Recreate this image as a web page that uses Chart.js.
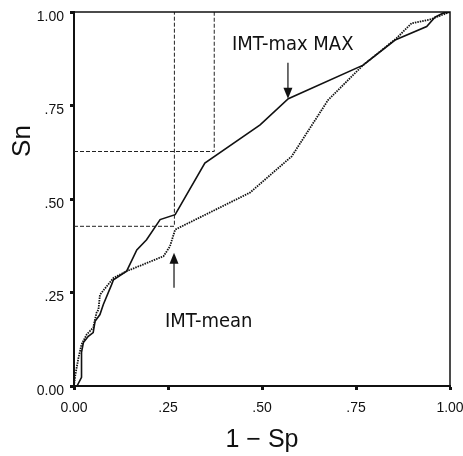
<!DOCTYPE html>
<html>
<head>
<meta charset="utf-8">
<script src="https://cdn.jsdelivr.net/npm/chart.js@4.4.1/dist/chart.umd.min.js"></script>
<style>
  html, body { margin: 0; padding: 0; background: #fff; }
  #wrap { width: 463px; height: 456px; }
</style>
</head>
<body>
<div id="wrap"><canvas id="roc"></canvas></div>
<script>
// ROC curves: 1 - Sp on x, Sn on y
const tickValues = [0, 0.25, 0.5, 0.75, 1];
const tickLabels = ['0.00', '.25', '.50', '.75', '1.00'];

const maxX = [0.008, 0.02, 0.02, 0.025, 0.038, 0.051, 0.056, 0.069, 0.078, 0.1, 0.105, 0.14, 0.167, 0.193, 0.229, 0.269, 0.348, 0.495, 0.57, 0.769, 0.854, 0.938, 0.96, 0.982, 1];
const maxY = [0, 0.023, 0.09, 0.116, 0.133, 0.143, 0.173, 0.191, 0.218, 0.271, 0.284, 0.307, 0.364, 0.391, 0.445, 0.458, 0.596, 0.698, 0.768, 0.858, 0.925, 0.961, 0.986, 0.997, 1];

const meanX = [0, 0.003, 0.011, 0.02, 0.034, 0.051, 0.06, 0.065, 0.069, 0.105, 0.14, 0.238, 0.255, 0.269, 0.295, 0.468, 0.579, 0.676, 0.769, 0.858, 0.898, 0.947, 1];
const meanY = [0, 0.026, 0.071, 0.111, 0.138, 0.156, 0.196, 0.204, 0.244, 0.289, 0.307, 0.347, 0.373, 0.418, 0.431, 0.517, 0.614, 0.765, 0.858, 0.93, 0.97, 0.98, 1];

// cut-off guide lines
const cutAX = [0, 0.267, 0.267];
const cutAY = [0.427, 0.427, 1];
const cutBX = [0, 0.373, 0.373];
const cutBY = [0.627, 0.627, 1];

// labels with arrows: text left x, text baseline y, arrow x, arrow start y, arrow tip y
const noteMax = { text: 'IMT-max MAX', x: 0.42, y: 0.899, ax: 0.569, ay0: 0.864, ay1: 0.768 };
const noteMean = { text: 'IMT-mean', x: 0.242, y: 0.159, ax: 0.266, ay0: 0.263, ay1: 0.356 };

function pts(xs, ys) {
  return xs.map((x, i) => ({ x: x, y: ys[i] }));
}

const notesPlugin = {
  id: 'notes',
  afterDatasetsDraw(chart) {
    const ctx = chart.ctx;
    const sx = chart.scales.x, sy = chart.scales.y;
    const a = chart.chartArea;
    ctx.save();
    // top and right frame
    ctx.strokeStyle = '#111';
    ctx.lineWidth = 1.5;
    ctx.beginPath();
    ctx.moveTo(a.left, a.top);
    ctx.lineTo(a.right, a.top);
    ctx.lineTo(a.right, a.bottom);
    ctx.stroke();

    ctx.font = '20px "DejaVu Sans Condensed", "Liberation Sans", Arial, sans-serif';
    ctx.fillStyle = '#111';
    ctx.textBaseline = 'alphabetic';
    ctx.textAlign = 'left';
    [noteMax, noteMean].forEach(n => {
      ctx.fillText(n.text, sx.getPixelForValue(n.x), sy.getPixelForValue(n.y));
      const x = sx.getPixelForValue(n.ax);
      const y0 = sy.getPixelForValue(n.ay0);
      const y1 = sy.getPixelForValue(n.ay1);
      const dir = y1 > y0 ? 1 : -1;
      ctx.lineWidth = 1.2;
      ctx.beginPath();
      ctx.moveTo(x, y0);
      ctx.lineTo(x, y1 - dir * 8);
      ctx.stroke();
      ctx.beginPath();
      ctx.moveTo(x, y1);
      ctx.lineTo(x - 4.5, y1 - dir * 11);
      ctx.lineTo(x + 4.5, y1 - dir * 11);
      ctx.closePath();
      ctx.fill();
    });

    // y axis title, sits above the middle in the original
    ctx.font = '26px "Liberation Sans", Arial, sans-serif';
    ctx.textAlign = 'center';
    ctx.textBaseline = 'middle';
    ctx.translate(23, 141);
    ctx.rotate(-Math.PI / 2);
    ctx.fillText('Sn', 0, 0);
    ctx.restore();
  }
};

const tickFont = { family: '"Liberation Sans", Arial, sans-serif', size: 14 };
const titleFont = { family: '"Liberation Sans", Arial, sans-serif', size: 25 };

new Chart(document.getElementById('roc'), {
  type: 'scatter',
  data: {
    datasets: [
      {
        label: 'IMT-max MAX',
        data: pts(maxX, maxY),
        showLine: true,
        borderColor: '#111',
        borderWidth: 1.6,
        pointRadius: 0,
        tension: 0
      },
      {
        label: 'IMT-mean',
        data: pts(meanX, meanY),
        showLine: true,
        borderColor: '#111',
        borderWidth: 1.8,
        borderDash: [1.5, 1],
        pointRadius: 0,
        tension: 0
      },
      {
        label: 'cut-off A',
        data: pts(cutAX, cutAY),
        showLine: true,
        borderColor: '#222',
        borderWidth: 1,
        borderDash: [4, 2],
        pointRadius: 0
      },
      {
        label: 'cut-off B',
        data: pts(cutBX, cutBY),
        showLine: true,
        borderColor: '#222',
        borderWidth: 1,
        borderDash: [4, 2],
        pointRadius: 0
      }
    ]
  },
  options: {
    responsive: true,
    maintainAspectRatio: false,
    animation: false,
    layout: { padding: { top: 12, right: 13, left: 0, bottom: 0 } },
    plugins: {
      legend: { display: false },
      tooltip: { enabled: false }
    },
    scales: {
      x: {
        type: 'linear',
        min: 0,
        max: 1,
        afterBuildTicks: s => { s.ticks = tickValues.map(v => ({ value: v })); },
        afterFit: s => { s.height = 70; s.paddingLeft = 0; s.paddingRight = 0; },
        ticks: {
          color: '#111',
          font: tickFont,
          padding: 10,
          maxRotation: 0,
          callback: (v) => tickLabels[tickValues.indexOf(v)]
        },
        grid: { display: true, drawOnChartArea: false, drawTicks: true, tickLength: 4, tickWidth: 3, color: '#111' },
        border: { display: true, color: '#111', width: 2 },
        title: { display: true, text: '1 \u2212 Sp', color: '#111', font: titleFont, padding: { top: 0, bottom: 1 } }
      },
      y: {
        type: 'linear',
        min: 0,
        max: 1,
        afterBuildTicks: s => { s.ticks = tickValues.map(v => ({ value: v })); },
        afterFit: s => { s.width = 74; s.paddingTop = 0; s.paddingBottom = 0; },
        ticks: {
          color: '#111',
          font: tickFont,
          padding: 6,
          labelOffset: 5,
          callback: (v) => tickLabels[tickValues.indexOf(v)]
        },
        grid: { display: true, drawOnChartArea: false, drawTicks: true, tickLength: 4, tickWidth: 3, color: '#111' },
        border: { display: true, color: '#111', width: 2 }
      }
    }
  },
  plugins: [notesPlugin]
});
</script>
</body>
</html>
